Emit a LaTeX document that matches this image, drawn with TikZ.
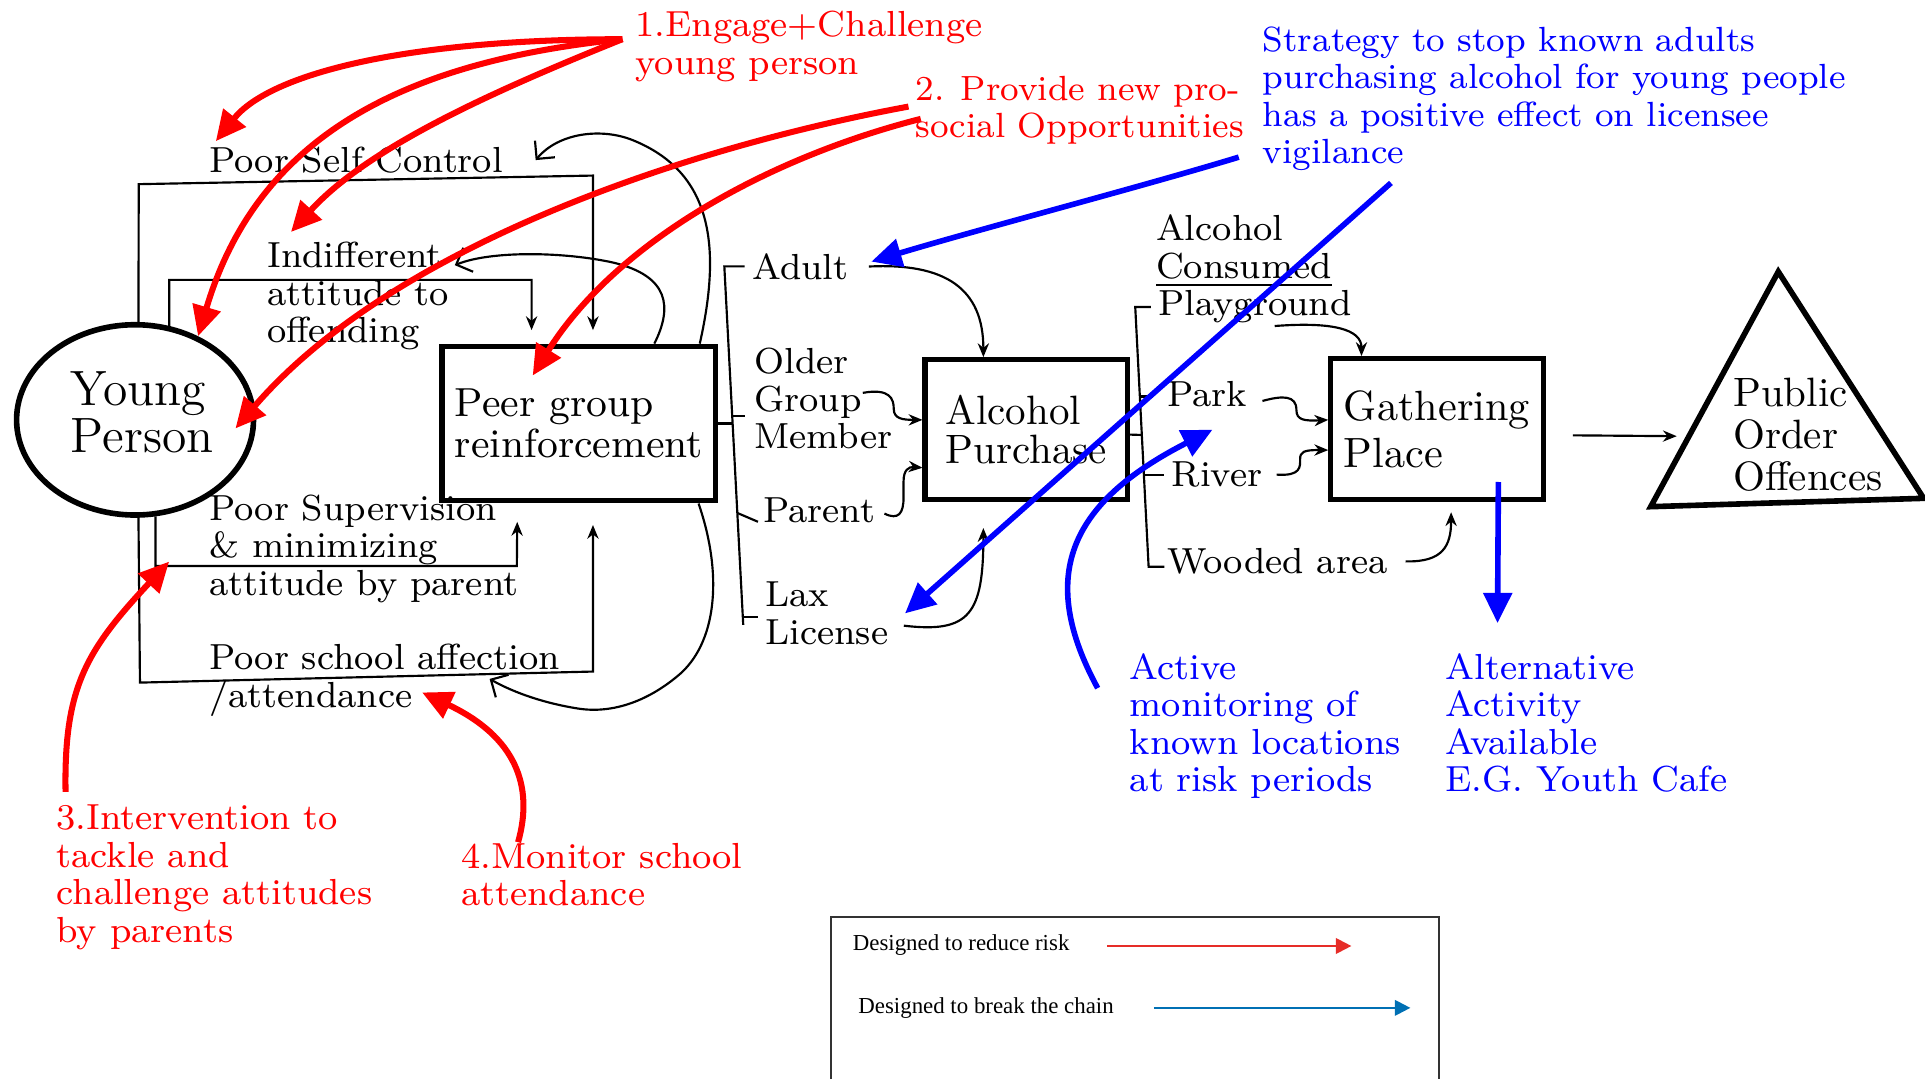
\documentclass[tikz,border=0pt]{standalone}
\usepackage{fontspec}
\usetikzlibrary{arrows.meta,shapes.geometric,calc}

\newfontfamily\keyfont{Liberation Serif}
\definecolor{riskred}{RGB}{255,0,0}
\definecolor{chainblue}{RGB}{0,0,255}
\definecolor{keyred}{RGB}{230,45,40}
\definecolor{keyblue}{RGB}{0,112,180}

\tikzset{
  lbl/.style={anchor=north west, inner sep=0pt, align=left, font=\fontsize{8.4}{8.7}\selectfont},
  risklbl/.style={lbl, text=riskred},
  chainlbl/.style={lbl, text=chainblue},
  stage/.style={draw, line width=1.2pt, inner sep=0pt, align=left},
  bracket/.style={line width=0.5pt},
  flow/.style={line width=0.5pt, -{Stealth[length=3.2pt,width=2.6pt]}},
  back/.style={line width=0.5pt, -{Straight Barb[length=3pt,width=6pt]}},
  riskarrow/.style={riskred, line width=1.4pt, -{Triangle[length=7pt,width=6.5pt]}},
  chainarrow/.style={chainblue, line width=1.3pt, -{Triangle[length=7pt,width=6.5pt]}},
  keylbl/.style={anchor=base west, inner sep=0pt, font=\keyfont\fontsize{5.3}{6}\selectfont},
}

\begin{document}
\begin{tikzpicture}[x=0.1mm, y=-0.1mm]
\useasboundingbox (0,0) rectangle (1568,879);

\node[draw, ellipse, line width=1.3pt, minimum width=19.3mm, minimum height=15.5mm, inner sep=0pt] (yp) at (110,342) {};
\node[lbl, font=\fontsize{11.5}{10.8}\selectfont] (yptxt) at (57,302) {Young\\Person};

\node[stage, minimum width=22.3mm, minimum height=12.6mm, font=\fontsize{9.4}{9.6}\selectfont] (peer) at (471.5,345) {Peer group\\reinforcement};
\node[stage, minimum width=16.5mm, minimum height=11.4mm, font=\fontsize{9.5}{9}\selectfont] (ap) at (836,350) {Alcohol\\Purchase};
\node[stage, minimum width=17.3mm, minimum height=11.5mm, font=\fontsize{9.8}{10.8}\selectfont] (gp) at (1170.5,349.6) {Gathering\\Place};

\coordinate (apex) at (1448.5,221.3);
\coordinate (lowl) at (1344.6,412.7);
\coordinate (lowr) at (1566.9,405.9);
\draw[line width=1.3pt] (apex) -- (lowr) -- (lowl) -- cycle;
\node[lbl, font=\fontsize{9.5}{9.8}\selectfont] (poo) at (1411,307) {Public\\Order\\Offences};

\node[lbl] (sc) at (169.8,119) {Poor Self Control};
\node[lbl] (ind) at (217,196.5) {Indifferent\\attitude to\\offending};
\node[lbl] (sup) at (169.8,402.4) {Poor Supervision\\\& minimizing\\attitude by parent};
\node[lbl] (sch) at (169.8,524) {Poor school affection\\/attendance};
\node[lbl] (adult) at (612,205.7) {Adult};
\node[lbl] (older) at (613.8,283) {Older\\Group\\Member};
\node[lbl] (parent) at (621,404.4) {Parent};
\node[lbl] (lax) at (622.9,473.4) {Lax\\License};
\node[lbl] (cons) at (941,174.5) {Alcohol\\\underline{Consumed}};
\node[lbl] (play) at (943,235.6) {Playground};
\node[lbl] (park) at (950,310) {Park};
\node[lbl] (river) at (953.8,375.5) {River};
\node[lbl] (wood) at (950,446) {Wooded area};

\node[risklbl] (eng) at (517,8.5) {1.Engage+Challenge\\young person};
\node[risklbl, font=\fontsize{8.1}{8.8}\selectfont] (prov) at (745,61) {2. Provide new pro-\\social Opportunities};
\node[risklbl] (interv) at (45.4,655) {3.Intervention to\\tackle and\\challenge attitudes\\by parents};
\node[risklbl] (mon) at (375,686) {4.Monitor school\\attendance};

\node[chainlbl, font=\fontsize{8.1}{8.7}\selectfont] (strat) at (1028,21) {Strategy to stop known adults\\purchasing alcohol for young people\\has a positive effect on licensee\\vigilance};
\node[chainlbl] (active) at (919.6,531.5) {Active\\monitoring of\\known locations\\at risk periods};
\node[chainlbl] (alt) at (1176.8,531.5) {Alternative\\Activity\\Available\\E.G. Youth Cafe};

\draw[flow] (yp.88) -- (113,150) -- (483,143) -- ([xshift=1.15mm,yshift=1.1mm]peer.north);
\draw[flow] (yp.70) |- (433,228) -- ([xshift=-3.85mm,yshift=1.1mm]peer.north);
\draw[flow] (yp.-78) |- (421,461) -- ([xshift=-5.02mm,yshift=-1.5mm]peer.south);
\draw[flow] (yp.-88) -- (114,556) -- (483,547) -- ([xshift=1.15mm,yshift=-1.75mm]peer.south);

\draw[back] ([xshift=6.15mm]peer.north) .. controls (548,250) and (545,225) .. (500,214) .. controls (460,205) and (400,204) .. ([xshift=0.4mm,yshift=-1.95mm]ind.north east);
\draw[back] ([xshift=9.85mm]peer.north) .. controls (588,200) and (580,140) .. (515,114) .. controls (490,104) and (455,108) .. ([xshift=2.6mm]sc.east);
\draw[back] ([xshift=9.75mm]peer.south) .. controls (588,465) and (585,520) .. (555,548) .. controls (530,570) and (500,582) .. (470,577) .. controls (445,573) and (420,565) .. ([xshift=22.9mm,yshift=-2.9mm]sch.north west);

\draw[bracket] (606.5,217) -- (590,217) -- (605.4,509);
\draw[bracket] (595.6,339) -- (606.5,339);
\draw[bracket] (601,418) -- (617.4,425);
\draw[bracket] (605.4,502.3) -- (617.4,502.3);
\draw[bracket] (peer.east) -- (597,345);
\draw[bracket] (937.5,250) -- (924.7,250) -- (935.6,461.6) -- (948.4,461.6);
\draw[bracket] (928.3,323) -- (939.2,323);
\draw[bracket] (932,387) -- (948.4,387);
\draw[bracket] ([yshift=-0.4mm]ap.east) -- (930,354.3);

\draw[flow] ([xshift=1.6mm]adult.east) .. controls (770,214) and (801,235) .. ([xshift=-3.5mm]ap.north);
\draw[flow] ([xshift=8.9mm,yshift=-3.7mm]older.north west) .. controls (725,316) and (728,325) .. (728,333) .. controls (728,341) and (735,342) .. ([yshift=0.8mm]ap.west);
\draw[flow] ([xshift=0.7mm,yshift=-0.3mm]parent.east) .. controls (732,424) and (736,418) .. (736,405) -- (736,392) .. controls (736,383) and (740,380) .. ([yshift=-3.1mm]ap.west);
\draw[flow] ([xshift=1.2mm,yshift=-1mm]lax.east) .. controls (790,516) and (801,500) .. ([xshift=-3.5mm,yshift=-2.1mm]ap.south);
\draw[flow] ([xshift=1.6mm,yshift=-0.2mm]play.south) .. controls (1085,262) and (1109,268) .. ([xshift=-6.15mm]gp.north);
\draw[flow] ([xshift=1.2mm,yshift=-0.55mm]park.east) .. controls (1045,322) and (1056,322) .. (1056,334) .. controls (1056,342) and (1062,343) .. ([yshift=0.76mm]gp.west);
\draw[flow] ([xshift=1.1mm]river.east) .. controls (1060,388) and (1059,380) .. (1059,374) .. controls (1059,368) and (1062,366.5) .. ([yshift=-1.7mm]gp.west);
\draw[flow] ([xshift=1.4mm]wood.east) .. controls (1175,458) and (1182,445) .. ([xshift=1.15mm,yshift=-0.8mm]gp.south);
\draw[flow] ([xshift=2.2mm,yshift=-0.5mm]gp.east) -- ($(apex)!0.7!(lowl)+(-10,0)$);

\draw[riskarrow] ([xshift=-1mm,yshift=0.6mm]eng.west) .. controls (330,32) and (220,60) .. ([xshift=0.6mm,yshift=0.4mm]sc.north west);
\draw[riskarrow] ([xshift=-1mm,yshift=0.6mm]eng.west) .. controls (330,50) and (210,110) .. (yp.53);
\draw[riskarrow] ([xshift=-1mm,yshift=0.6mm]eng.west) .. controls (400,75) and (300,120) .. ([xshift=2mm,yshift=0.75mm]ind.north west);
\draw[riskarrow] ([xshift=-0.5mm,yshift=0.3mm]prov.west) .. controls (560,120) and (320,200) .. ([xshift=-1.7mm,yshift=-0.7mm]yp.east);
\draw[riskarrow] ([xshift=0.5mm,yshift=-0.7mm]prov.west) .. controls (620,130) and (500,200) .. ([xshift=7.6mm,yshift=-2.6mm]peer.north west);
\draw[riskarrow] ([xshift=0.8mm,yshift=1mm]interv.north west) .. controls (52,560) and (70,530) .. ([xshift=-3.2mm,yshift=-5.5mm]sup.north west);
\draw[riskarrow] ([xshift=4.7mm]mon.north west) .. controls (435,640) and (420,600) .. ([xshift=17.4mm,yshift=-4mm]sch.north west);

\draw[chainarrow] ([xshift=-1.9mm,yshift=1.2mm]strat.south west) .. controls (930,152) and (800,186) .. ([xshift=1.8mm,yshift=0.4mm]adult.east);
\draw[chainarrow] ([xshift=10.5mm,yshift=-0.9mm]strat.south west) -- ([xshift=1.3mm]lax.east);
\draw[chainarrow] ([xshift=-2.55mm,yshift=-2.9mm]active.north west) .. controls (845,470) and (870,410) .. ([xshift=6.7mm]ap.east);
\draw[chainarrow] ([xshift=5mm,yshift=-4.3mm]gp.center) -- ([xshift=4.3mm,yshift=2.4mm]alt.north west);

\draw[black!80, line width=0.5pt] (677,879) -- (677,747) -- (1172,747) -- (1172,879);
\node[keylbl] (k1) at (694,774) {Designed to reduce risk};
\node[keylbl] (k2) at (698.5,825.4) {Designed to break the chain};
\draw[keyred, line width=0.5pt, -{Triangle[length=3.6pt,width=3.6pt]}] ([xshift=3mm,yshift=-0.1mm]k1.east) -- ++(199,0);
\draw[keyblue, line width=0.5pt, -{Triangle[length=3.6pt,width=3.6pt]}] ([xshift=3.2mm]k2.east) -- ++(209,0);

\end{tikzpicture}
\end{document}
